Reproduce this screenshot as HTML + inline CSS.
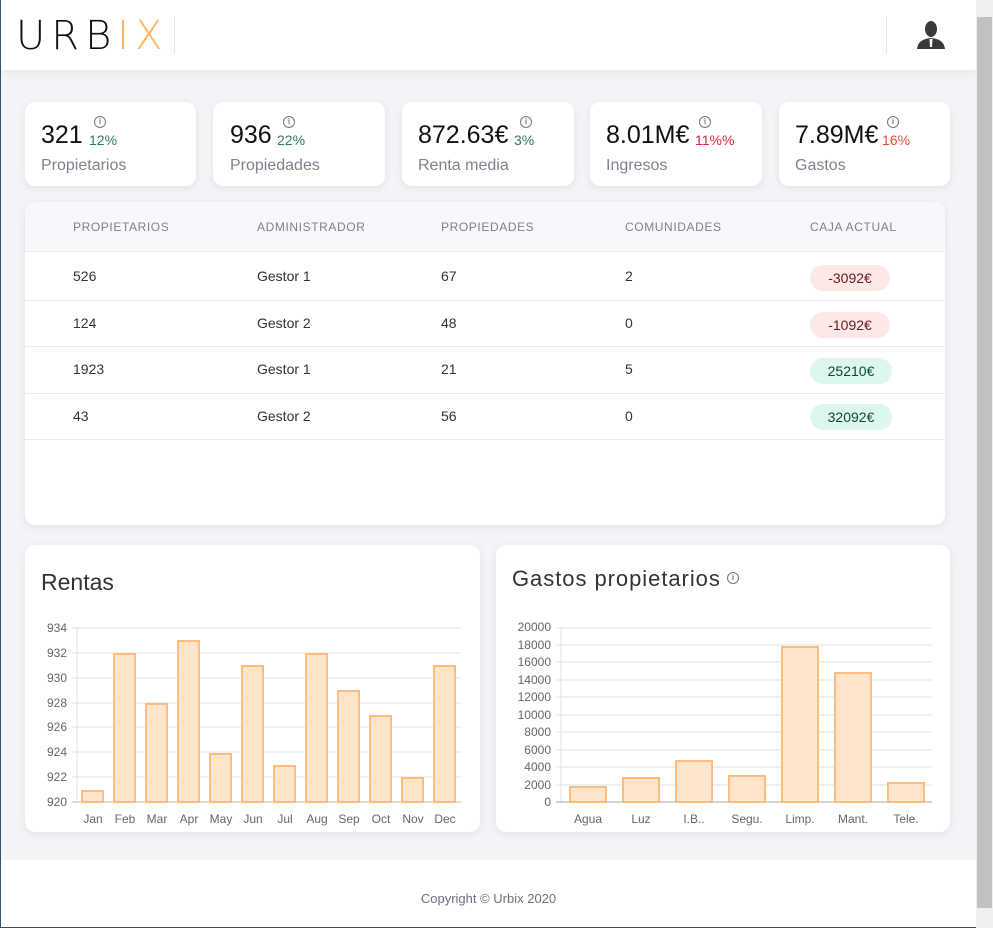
<!DOCTYPE html>
<html><head><meta charset="utf-8">
<style>
*{margin:0;padding:0;box-sizing:border-box}
body{width:993px;height:928px;overflow:hidden;background:#f3f4f8;font-family:"Liberation Sans",sans-serif;position:relative}
.abs{position:absolute}
.hdr{left:0;top:0;width:976px;height:70px;background:#fff;box-shadow:0 2px 10px rgba(0,0,0,.06)}
.card{background:#fff;border-radius:10px;box-shadow:0 2px 8px rgba(0,0,0,.08)}
.big{font-size:25px;color:#111}
.pct{font-size:14px}
.lab{font-size:16px;color:#7d8290}
.info{width:12px;height:12px;border:1.3px solid #777;border-radius:50%;font-size:8px;line-height:10px;text-align:center;color:#777;font-weight:bold}
.th{font-size:12px;color:#7d8290;letter-spacing:.6px}
.td{font-size:14px;color:#333}
.pill{font-size:14px;border-radius:13px;height:26px;line-height:26px;text-align:center}
.neg{background:#fde8e8;color:#6b1a1a}
.pos{background:#def7ec;color:#0d4a33}
.rowline{height:1px;background:#e8eaee;left:25px;width:920px}
</style></head><body>
<div class="abs hdr"></div>
<div class="abs" style="left:16px;top:14px;font-size:40px;letter-spacing:6px;font-weight:300;color:#111;font-family:'DejaVu Sans','Liberation Sans',sans-serif;line-height:44px">UR<span>B</span><span style="color:#fbb55c">IX</span></div>
<div class="abs" style="left:174px;top:16px;width:1px;height:38px;background:#e3e5ea"></div>
<div class="abs" style="left:886px;top:16px;width:1px;height:38px;background:#e3e5ea"></div>
<svg class="abs" style="left:915px;top:20px" width="32" height="30" viewBox="0 0 32 30"><ellipse cx="16" cy="9" rx="6" ry="8" fill="#3a3a3a"/><path d="M2 29 Q3 19 16 18 Q29 19 30 29Z" fill="#3a3a3a"/><path d="M14.5 19 L17.5 19 L17 27 L15 27Z" fill="#fff"/></svg>
<div class="abs" style="left:976px;top:0;width:17px;height:928px;background:#f0f0f0"></div>
<div class="abs" style="left:977px;top:17px;width:15px;height:891px;background:#c1c1c1"></div>
<div class="abs" style="left:0;top:0;width:1px;height:928px;background:#3e5068"></div>
<div class="abs" style="left:0;top:927px;width:976px;height:1px;background:#3e5068"></div>

<div class="abs card" style="left:25px;top:102px;width:171px;height:84px"></div>
<div class="abs card" style="left:213px;top:102px;width:172px;height:84px"></div>
<div class="abs card" style="left:402px;top:102px;width:172px;height:84px"></div>
<div class="abs card" style="left:590px;top:102px;width:172px;height:84px"></div>
<div class="abs card" style="left:779px;top:102px;width:171px;height:84px"></div>

<div class="abs big" style="left:41px;top:121px">321</div><div class="abs pct" style="left:89px;top:132px;color:#2f7a5c">12%</div><div class="abs info" style="left:94px;top:116px">i</div><div class="abs lab" style="left:41px;top:157px">Propietarios</div>
<div class="abs big" style="left:230px;top:121px">936</div><div class="abs pct" style="left:277px;top:132px;color:#2f7a5c">22%</div><div class="abs info" style="left:283px;top:116px">i</div><div class="abs lab" style="left:230px;top:157px">Propiedades</div>
<div class="abs big" style="left:418px;top:121px">872.63€</div><div class="abs pct" style="left:514px;top:132px;color:#2f7a5c">3%</div><div class="abs info" style="left:520px;top:116px">i</div><div class="abs lab" style="left:418px;top:157px">Renta media</div>
<div class="abs big" style="left:606px;top:121px">8.01M€</div><div class="abs pct" style="left:695px;top:132px;color:#d0283c">11%%</div><div class="abs info" style="left:699px;top:116px">i</div><div class="abs lab" style="left:606px;top:157px">Ingresos</div>
<div class="abs big" style="left:795px;top:121px">7.89M€</div><div class="abs pct" style="left:882px;top:132px;color:#e0502a">16%</div><div class="abs info" style="left:887px;top:116px">i</div><div class="abs lab" style="left:795px;top:157px">Gastos</div>

<div class="abs card" style="left:25px;top:202px;width:920px;height:323px;overflow:hidden"><div style="height:50px;background:#f7f8fb;border-bottom:1px solid #e8eaee"></div></div>
<div class="abs th" style="left:73px;top:220px">PROPIETARIOS</div>
<div class="abs th" style="left:257px;top:220px">ADMINISTRADOR</div>
<div class="abs th" style="left:441px;top:220px">PROPIEDADES</div>
<div class="abs th" style="left:625px;top:220px">COMUNIDADES</div>
<div class="abs th" style="left:810px;top:220px">CAJA ACTUAL</div>
<div class="abs rowline" style="top:300px"></div><div class="abs rowline" style="top:346px"></div><div class="abs rowline" style="top:393px"></div><div class="abs rowline" style="top:439px"></div>
<div class="abs td" style="left:73px;top:268px">526</div><div class="abs td" style="left:257px;top:268px">Gestor 1</div><div class="abs td" style="left:441px;top:268px">67</div><div class="abs td" style="left:625px;top:268px">2</div><div class="abs pill neg" style="left:810px;top:265px;width:80px">-3092€</div>
<div class="abs td" style="left:73px;top:315px">124</div><div class="abs td" style="left:257px;top:315px">Gestor 2</div><div class="abs td" style="left:441px;top:315px">48</div><div class="abs td" style="left:625px;top:315px">0</div><div class="abs pill neg" style="left:810px;top:312px;width:80px">-1092€</div>
<div class="abs td" style="left:73px;top:361px">1923</div><div class="abs td" style="left:257px;top:361px">Gestor 1</div><div class="abs td" style="left:441px;top:361px">21</div><div class="abs td" style="left:625px;top:361px">5</div><div class="abs pill pos" style="left:810px;top:358px;width:82px">25210€</div>
<div class="abs td" style="left:73px;top:408px">43</div><div class="abs td" style="left:257px;top:408px">Gestor 2</div><div class="abs td" style="left:441px;top:408px">56</div><div class="abs td" style="left:625px;top:408px">0</div><div class="abs pill pos" style="left:810px;top:404px;width:82px">32092€</div>

<div class="abs card" style="left:25px;top:545px;width:455px;height:287px"></div>
<div class="abs card" style="left:496px;top:545px;width:454px;height:287px"></div>
<div class="abs" style="left:41px;top:569px;font-size:23px;color:#333">Rentas</div>
<div class="abs" style="left:512px;top:566px;font-size:22px;color:#333;letter-spacing:0.95px">Gastos propietarios</div>
<div class="abs info" style="left:727px;top:572px">i</div>

<svg class="abs" style="left:0;top:0" width="993" height="928" font-family="Liberation Sans, sans-serif" font-size="12" fill="#666">
<g stroke="#e2e2e2" stroke-width="1">
<line x1="72" y1="628" x2="461" y2="628"/><line x1="72" y1="653" x2="461" y2="653"/><line x1="72" y1="678" x2="461" y2="678"/><line x1="72" y1="703" x2="461" y2="703"/><line x1="72" y1="727" x2="461" y2="727"/><line x1="72" y1="752" x2="461" y2="752"/><line x1="72" y1="777" x2="461" y2="777"/>
<line x1="77" y1="628" x2="77" y2="802"/>
</g>
<line x1="72" y1="802" x2="461" y2="802" stroke="#bbb"/>
<g text-anchor="end"><text x="67" y="632">934</text><text x="67" y="657">932</text><text x="67" y="682">930</text><text x="67" y="707">928</text><text x="67" y="731">926</text><text x="67" y="756">924</text><text x="67" y="781">922</text><text x="67" y="806">920</text></g>
<g fill="#fde4cb" stroke="#fdbd80" stroke-width="2">
<rect x="82" y="791" width="21" height="11"/><rect x="114" y="654" width="21" height="148"/><rect x="146" y="704" width="21" height="98"/><rect x="178" y="641" width="21" height="161"/><rect x="210" y="754" width="21" height="48"/><rect x="242" y="666" width="21" height="136"/><rect x="274" y="766" width="21" height="36"/><rect x="306" y="654" width="21" height="148"/><rect x="338" y="691" width="21" height="111"/><rect x="370" y="716" width="21" height="86"/><rect x="402" y="778" width="21" height="24"/><rect x="434" y="666" width="21" height="136"/>
</g>
<g text-anchor="middle"><text x="93" y="823">Jan</text><text x="125" y="823">Feb</text><text x="157" y="823">Mar</text><text x="189" y="823">Apr</text><text x="221" y="823">May</text><text x="253" y="823">Jun</text><text x="285" y="823">Jul</text><text x="317" y="823">Aug</text><text x="349" y="823">Sep</text><text x="381" y="823">Oct</text><text x="413" y="823">Nov</text><text x="445" y="823">Dec</text></g>

<g stroke="#e2e2e2" stroke-width="1">
<line x1="556" y1="628" x2="932" y2="628"/><line x1="556" y1="645" x2="932" y2="645"/><line x1="556" y1="662" x2="932" y2="662"/><line x1="556" y1="680" x2="932" y2="680"/><line x1="556" y1="697" x2="932" y2="697"/><line x1="556" y1="715" x2="932" y2="715"/><line x1="556" y1="732" x2="932" y2="732"/><line x1="556" y1="750" x2="932" y2="750"/><line x1="556" y1="767" x2="932" y2="767"/><line x1="556" y1="785" x2="932" y2="785"/>
<line x1="561" y1="628" x2="561" y2="802"/>
</g>
<line x1="556" y1="802" x2="932" y2="802" stroke="#aaa"/>
<g text-anchor="end"><text x="551" y="631">20000</text><text x="551" y="649">18000</text><text x="551" y="666">16000</text><text x="551" y="684">14000</text><text x="551" y="701">12000</text><text x="551" y="719">10000</text><text x="551" y="736">8000</text><text x="551" y="754">6000</text><text x="551" y="771">4000</text><text x="551" y="789">2000</text><text x="551" y="806">0</text></g>
<g fill="#fde4cb" stroke="#fdbd80" stroke-width="2">
<rect x="570" y="787" width="36" height="15"/><rect x="623" y="778" width="36" height="24"/><rect x="676" y="761" width="36" height="41"/><rect x="729" y="776" width="36" height="26"/><rect x="782" y="647" width="36" height="155"/><rect x="835" y="673" width="36" height="129"/><rect x="888" y="783" width="36" height="19"/>
</g>
<g text-anchor="middle"><text x="588" y="823">Agua</text><text x="641" y="823">Luz</text><text x="694" y="823">I.B..</text><text x="747" y="823">Segu.</text><text x="800" y="823">Limp.</text><text x="853" y="823">Mant.</text><text x="906" y="823">Tele.</text></g>
</svg>

<div class="abs" style="left:1px;top:860px;width:975px;height:67px;background:#fff"></div>
<div class="abs" style="left:1px;top:891px;width:975px;text-align:center;font-size:13px;color:#6b7080">Copyright © Urbix 2020</div>
</body></html>
